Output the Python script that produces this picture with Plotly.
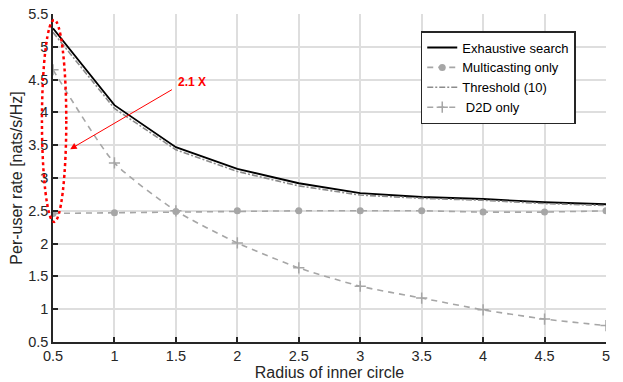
import plotly.graph_objects as go

radius = [0.5, 1, 1.5, 2, 2.5, 3, 3.5, 4, 4.5, 5]
exhaustive = [5.28, 4.11, 3.47, 3.14, 2.92, 2.77, 2.71, 2.68, 2.63, 2.60]
multicast = [2.46, 2.47, 2.49, 2.50, 2.50, 2.50, 2.50, 2.48, 2.48, 2.50]
threshold = [5.22, 4.06, 3.43, 3.10, 2.88, 2.74, 2.69, 2.66, 2.61, 2.58]
d2d = [4.65, 3.23, 2.50, 2.01, 1.63, 1.35, 1.17, 0.99, 0.85, 0.75]

x_ticks = [0.5, 1, 1.5, 2, 2.5, 3, 3.5, 4, 4.5, 5]
y_ticks = [0.5, 1, 1.5, 2, 2.5, 3, 3.5, 4, 4.5, 5, 5.5]

FONT = "Liberation Sans, Arial, Helvetica, sans-serif"

fig = go.Figure()
fig.add_trace(go.Scatter(x=radius, y=exhaustive, mode="lines", name="Exhaustive search",
                         line=dict(color="black", width=1.8)))
fig.add_trace(go.Scatter(x=radius, y=multicast, mode="lines+markers", name="Multicasting only",
                         line=dict(color="#a6a6a6", width=1.6, dash="6px,5px"),
                         marker=dict(symbol="circle", size=7, color="#a6a6a6")))
fig.add_trace(go.Scatter(x=radius, y=threshold, mode="lines", name="Threshold (10)",
                         line=dict(color="#8c8c8c", width=1.6, dash="6px,2px,2px,2px")))
fig.add_trace(go.Scatter(x=radius, y=d2d, mode="lines+markers", name=" D2D only",
                         line=dict(color="#a6a6a6", width=1.6, dash="6px,5px", shape="spline", smoothing=0.6),
                         marker=dict(symbol="cross-thin", size=8, color="#a6a6a6",
                                     line=dict(color="#a6a6a6", width=1.5))))

# highlighted ellipse around x=0.5
fig.add_shape(type="circle", xref="paper", yref="paper",
              x0=-0.02, x1=0.024, y0=0.366, y1=0.982,
              line=dict(color="red", width=2.5, dash="dot"))

fig.add_annotation(x=0.64, y=3.44, ax=1.48, ay=4.36, xref="x", yref="y", axref="x", ayref="y",
                   showarrow=True, arrowhead=2, arrowsize=1.3, arrowwidth=1, arrowcolor="red", text="")
fig.add_annotation(x=1.63, y=4.46, xref="x", yref="y", showarrow=False, text="<b>2.1 X</b>",
                   font=dict(color="red", size=12, family=FONT))

fig.update_layout(
    width=623, height=382,
    margin=dict(l=53, r=17, t=14, b=40),
    paper_bgcolor="white", plot_bgcolor="white",
    font=dict(family=FONT, color="#262626", size=16),
    showlegend=True,
    legend=dict(x=0.665, y=0.948, xanchor="left", yanchor="top",
                bgcolor="white", bordercolor="#262626", borderwidth=1.5,
                font=dict(size=13, color="black", family=FONT),
                tracegroupgap=0, itemwidth=30, traceorder="normal"),
)
fig.update_xaxes(range=[0.5, 5], tickvals=x_ticks, ticktext=[f"{v:g}" for v in x_ticks],
                 automargin=False, tickfont=dict(size=14.5), ticklabeloverflow="allow",
                 showgrid=True, gridcolor="#dedede", gridwidth=1.5,
                 showline=True, linecolor="#262626", linewidth=1.5,
                 ticks="inside", ticklen=5, tickcolor="#262626", tickwidth=1.5,
                 title=dict(text="Radius of inner circle", standoff=0, font=dict(size=16)),
                 zeroline=False, mirror=False)
fig.update_yaxes(range=[0.5, 5.5], tickvals=y_ticks, ticktext=[f"{v:g}" for v in y_ticks],
                 automargin=False, tickfont=dict(size=14.5), ticklabeloverflow="allow",
                 showgrid=True, gridcolor="#dedede", gridwidth=1.5,
                 showline=True, linecolor="#262626", linewidth=1.5,
                 ticks="inside", ticklen=5, tickcolor="#262626", tickwidth=1.5,
                 title=dict(text="Per-user rate [nats/s/Hz]", standoff=2, font=dict(size=16)),
                 zeroline=False, mirror=False)

# remove the browser's default 8px body margin so the figure fills the window exactly
fig.write_html("out.html", config={"displayModeBar": False},
               post_script="document.body.style.margin='0';")
